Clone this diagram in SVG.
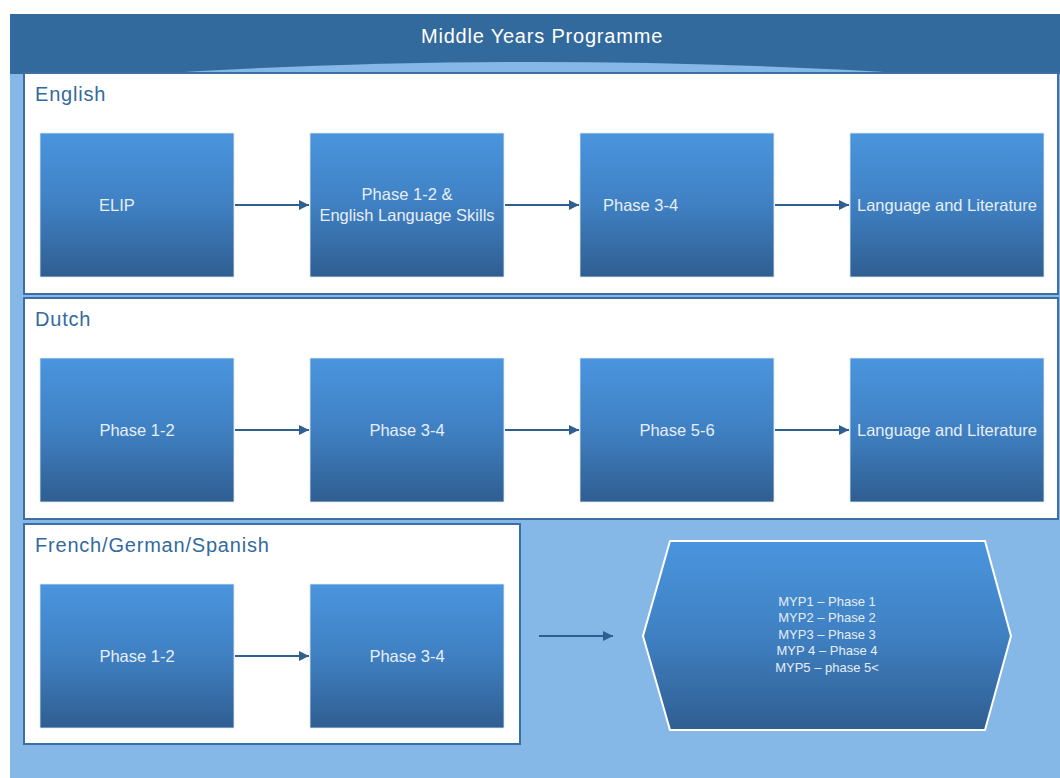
<svg xmlns="http://www.w3.org/2000/svg" width="1060" height="778" viewBox="0 0 1060 778">
<defs>
<linearGradient id="g" x1="0" y1="0" x2="0" y2="1">
<stop offset="0" stop-color="#4A95DE"/>
<stop offset="0.5" stop-color="#3F80C2"/>
<stop offset="1" stop-color="#2F5E91"/>
</linearGradient>
<marker id="ah" viewBox="0 0 10 10" refX="10" refY="5" markerWidth="10" markerHeight="10" markerUnits="userSpaceOnUse" orient="auto">
<path d="M0,0 L10,5 L0,10 Z" fill="#2F5E91"/>
</marker>
<style>
.panel{fill:#FFFFFF;stroke:#3C6FA6;stroke-width:2}
.box{fill:url(#g);stroke:#DDE8F3;stroke-width:0.8}
.lbl{font-family:"Liberation Sans",Arial,sans-serif;font-size:16.5px;fill:#E6EEF7}
.sec{font-family:"Liberation Sans",Arial,sans-serif;font-size:20px;letter-spacing:0.8px;fill:#336A9E}
.conn{stroke:#2F5E91;stroke-width:2;fill:none;marker-end:url(#ah)}
.hx{font-family:"Liberation Sans",Arial,sans-serif;font-size:13px;fill:#E6EEF7;text-anchor:middle}
</style>
</defs>
<rect x="0" y="0" width="1060" height="778" fill="#FFFFFF"/>
<rect x="10" y="70" width="1050" height="708" fill="#85B8E6"/>
<g id="header">
<rect x="10" y="14" width="1050" height="60" fill="#336A9E"/>
<path d="M150,74 Q530,50 920,74 Z" fill="#85B8E6"/>
<text x="542" y="43" text-anchor="middle" font-family="'Liberation Sans',Arial,sans-serif" font-size="20" letter-spacing="0.8" fill="#FFFFFF">Middle Years Programme</text>
</g>
<g id="english">
<rect class="panel" x="24" y="73" width="1034" height="221"/>
<text class="sec" x="35" y="101">English</text>
</g>
<g id="dutch">
<rect class="panel" x="24" y="298" width="1034" height="221"/>
<text class="sec" x="35" y="326">Dutch</text>
</g>
<g id="fgs">
<rect class="panel" x="24" y="524" width="496" height="220"/>
<text class="sec" x="35" y="552">French/German/Spanish</text>
</g>
<g id="n-elip"><rect class="box" x="40" y="133" width="194" height="144"/><text class="lbl" x="99" y="211">ELIP</text></g>
<g id="n-e12"><rect class="box" x="310" y="133" width="194" height="144"/><text class="lbl" x="407" y="200" text-anchor="middle">Phase 1-2 &amp;</text><text class="lbl" x="407" y="221" text-anchor="middle">English Language Skills</text></g>
<g id="n-e34"><rect class="box" x="580" y="133" width="194" height="144"/><text class="lbl" x="603" y="211">Phase 3-4</text></g>
<g id="n-elit"><rect class="box" x="850" y="133" width="194" height="144"/><text class="lbl" x="857" y="211">Language and Literature</text></g>
<g id="n-d12"><rect class="box" x="40" y="358" width="194" height="144"/><text class="lbl" x="137" y="436" text-anchor="middle">Phase 1-2</text></g>
<g id="n-d34"><rect class="box" x="310" y="358" width="194" height="144"/><text class="lbl" x="407" y="436" text-anchor="middle">Phase 3-4</text></g>
<g id="n-d56"><rect class="box" x="580" y="358" width="194" height="144"/><text class="lbl" x="677" y="436" text-anchor="middle">Phase 5-6</text></g>
<g id="n-dlit"><rect class="box" x="850" y="358" width="194" height="144"/><text class="lbl" x="857" y="436">Language and Literature</text></g>
<g id="n-f12"><rect class="box" x="40" y="584" width="194" height="144"/><text class="lbl" x="137" y="662" text-anchor="middle">Phase 1-2</text></g>
<g id="n-f34"><rect class="box" x="310" y="584" width="194" height="144"/><text class="lbl" x="407" y="662" text-anchor="middle">Phase 3-4</text></g>
<g id="n-myp">
<polygon points="670,541 985,541 1011,636 985,730 670,730 643,636" fill="url(#g)" stroke="#FFFFFF" stroke-width="2"/>
<text class="hx" x="827" y="606">MYP1 – Phase 1</text>
<text class="hx" x="827" y="622">MYP2 – Phase 2</text>
<text class="hx" x="827" y="639">MYP3 – Phase 3</text>
<text class="hx" x="827" y="655">MYP 4 – Phase 4</text>
<text class="hx" x="827" y="672">MYP5 – phase 5&lt;</text>
</g>
<g id="connectors">
<line class="conn" x1="235" y1="205" x2="309" y2="205"/>
<line class="conn" x1="505" y1="205" x2="579" y2="205"/>
<line class="conn" x1="775" y1="205" x2="849" y2="205"/>
<line class="conn" x1="235" y1="430" x2="309" y2="430"/>
<line class="conn" x1="505" y1="430" x2="579" y2="430"/>
<line class="conn" x1="775" y1="430" x2="849" y2="430"/>
<line class="conn" x1="235" y1="656" x2="309" y2="656"/>
<line class="conn" x1="539" y1="636" x2="613" y2="636"/>
</g>
</svg>
